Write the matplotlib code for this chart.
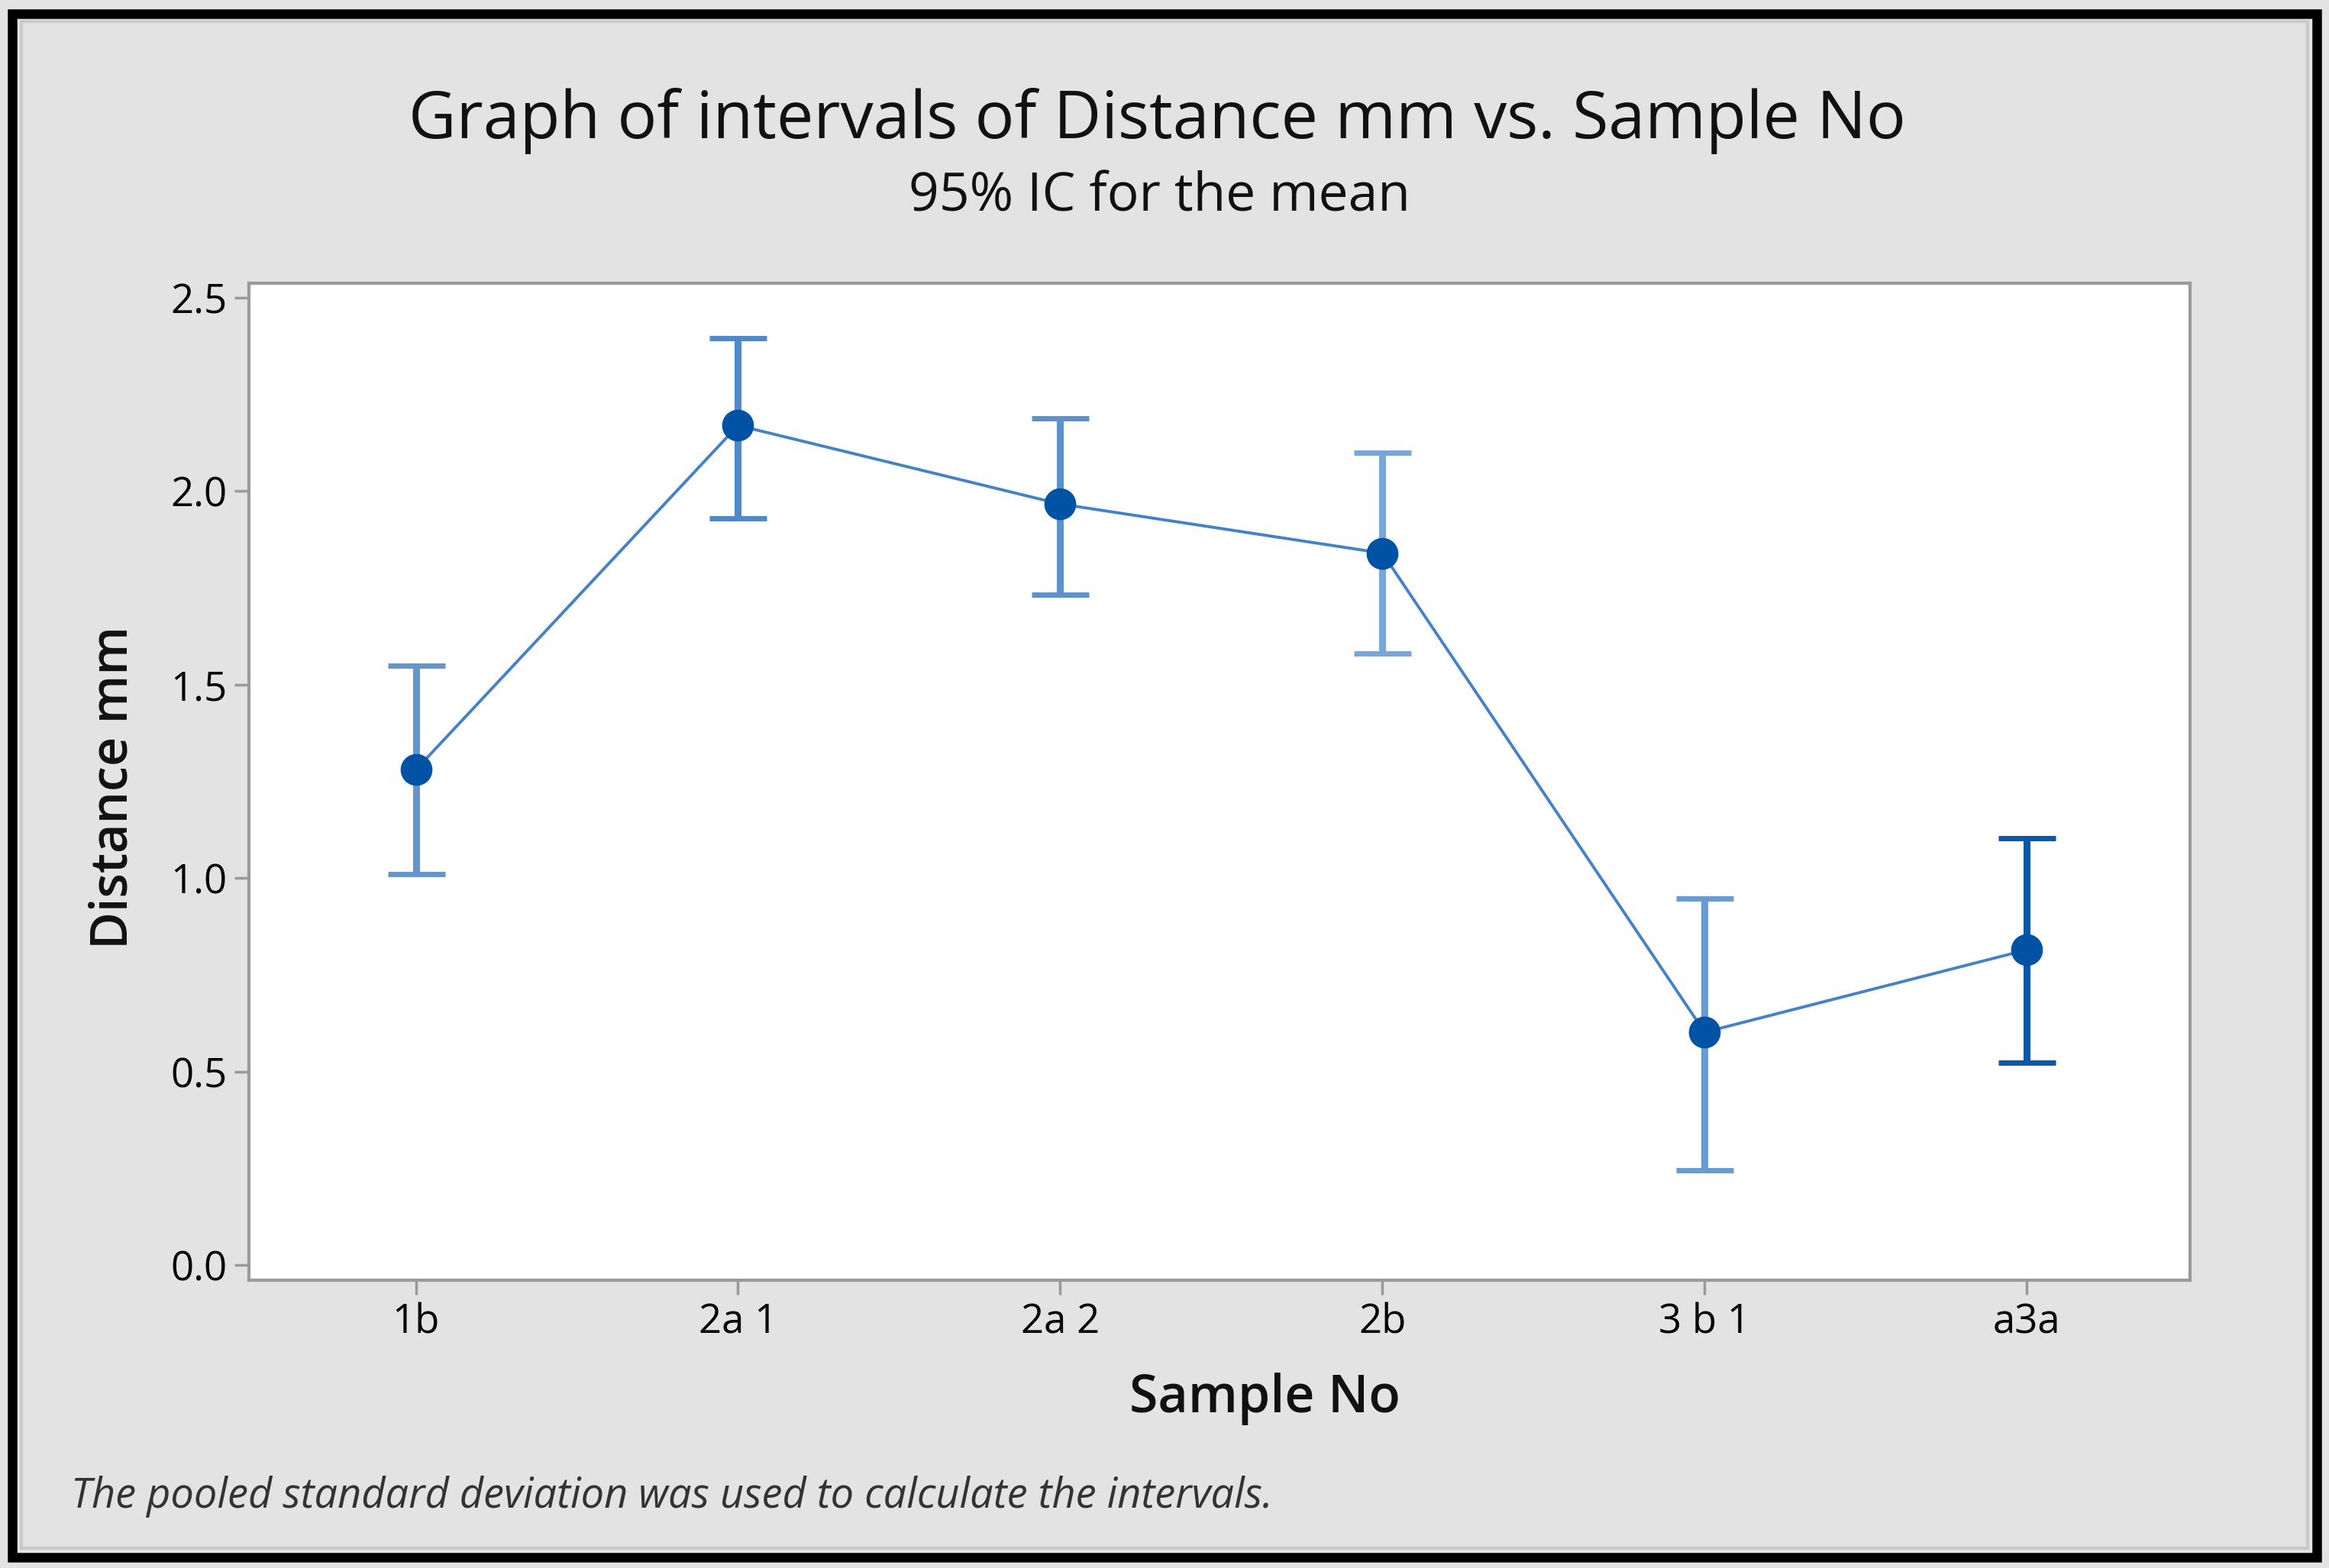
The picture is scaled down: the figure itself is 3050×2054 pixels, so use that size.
import matplotlib
matplotlib.use("Agg")
import matplotlib.pyplot as plt
from matplotlib.patches import Rectangle

# ---- data ----
samples = ["1b", "2a 1", "2a 2", "2b", "3 b 1", "a3a"]
means = [1.28, 2.17, 1.967, 1.84, 0.602, 0.815]
upper = [1.55, 2.395, 2.188, 2.099, 0.948, 1.103]
lower = [1.011, 1.930, 1.733, 1.580, 0.245, 0.523]
yticks = [0.0, 0.5, 1.0, 1.5, 2.0, 2.5]

title = "Graph of intervals of Distance mm vs. Sample No"
subtitle = "95% IC for the mean"
xlabel = "Sample No"
ylabel = "Distance mm"
footnote = "The pooled standard deviation was used to calculate the intervals."

bar_colors = ["#6496cc", "#4f89c7", "#5d92cb", "#79a6d6", "#6a9bd0", "#0a56a8"]

FONT = ["Open Sans", "DejaVu Sans"]
plt.rcParams["font.family"] = FONT

fig = plt.figure(figsize=(30.5, 20.54), dpi=100, facecolor="#e3e3e3")

# outer frame
fig.patches.append(Rectangle((16 / 3050, 14 / 2054), 1 - 32 / 3050, 1 - 32 / 2054,
                             transform=fig.transFigure, fill=False,
                             edgecolor="black", linewidth=9, zorder=10))
fig.patches.append(Rectangle((28 / 3050, 26 / 2054), 1 - 56 / 3050, 1 - 54 / 2054,
                             transform=fig.transFigure, fill=False,
                             edgecolor="#c9c9c9", linewidth=3, zorder=10))

ax = fig.add_axes([0.107, 0.1835, 0.8334, 0.636])
ax.set_facecolor("white")

x = list(range(len(samples)))
ax.plot(x, means, color="#4582c5", linewidth=2.8, zorder=2)
for i in x:
    ax.errorbar([i], [means[i]],
                yerr=[[means[i] - lower[i]], [upper[i] - means[i]]],
                fmt="none", ecolor=bar_colors[i], elinewidth=6.5,
                capsize=27, capthick=5, zorder=3)
ax.plot(x, means, linestyle="none", marker="o", markersize=29,
        markerfacecolor="#0052a5", markeredgecolor="#0052a5", zorder=4)

ax.set_xlim(-0.517, 5.507)
ax.set_ylim(-0.039, 2.538)
ax.set_xticks(x)
ax.set_xticklabels(samples)
ax.set_yticks(yticks)
ax.set_yticklabels([f"{v:.1f}" for v in yticks])

for s in ax.spines.values():
    s.set_color("#9a9a9a")
    s.set_linewidth(3)
ax.tick_params(axis="both", direction="out", length=14, width=2.5,
               color="#9a9a9a", labelsize=38, labelcolor="black", pad=7)

fig.text(0.497, 0.9226, title, ha="center", va="center", fontsize=62,
         fontweight="medium", color="#111111")
fig.text(0.498, 0.874, subtitle, ha="center", va="center", fontsize=50,
         fontweight="medium", color="#111111")
fig.text(0.543, 0.108, xlabel, ha="center", va="center", fontsize=49,
         fontweight="semibold", color="#111111")
fig.text(0.049, 0.498, ylabel, ha="center", va="center", fontsize=48,
         fontweight="semibold", rotation=90, color="#111111")
fig.text(0.0305, 0.0455, footnote, ha="left", va="center", fontsize=39,
         style="italic", color="#333333")

fig.savefig("out.png", dpi=100, facecolor=fig.get_facecolor())
